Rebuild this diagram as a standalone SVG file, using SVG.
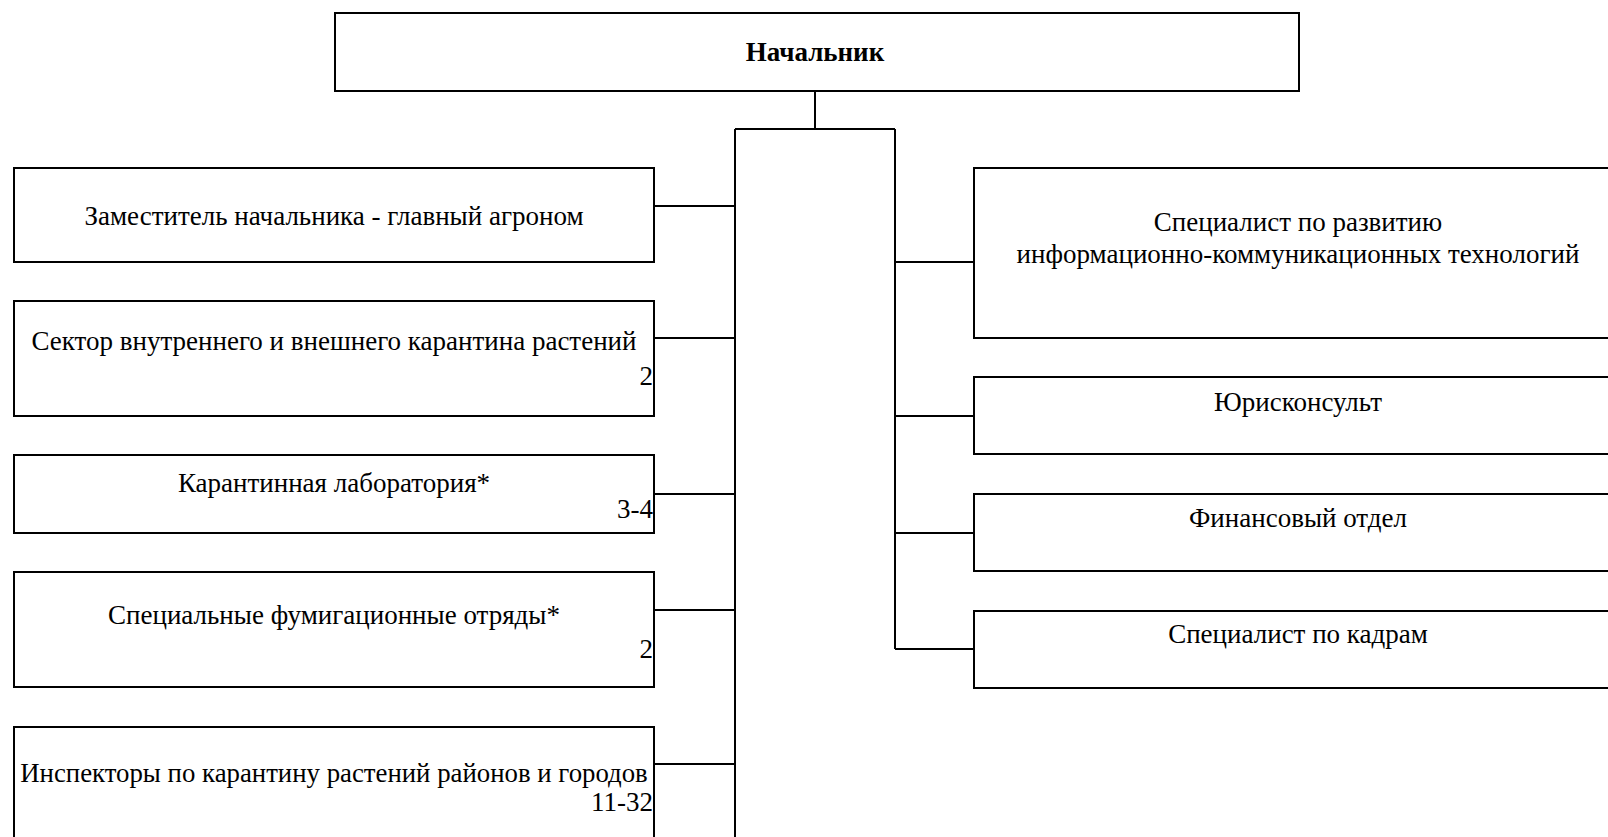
<svg xmlns="http://www.w3.org/2000/svg" width="1608" height="837" viewBox="0 0 1608 837">
<style>
.box{fill:#fff;stroke:#000;stroke-width:2}
.ln{fill:none;stroke:#000;stroke-width:2}
text{font-family:"Liberation Serif","Times New Roman",serif;font-size:27px;fill:#000}
.c{text-anchor:middle}
.r{text-anchor:end}
.b{font-weight:bold}
</style>
<rect width="1608" height="837" fill="#fff"/>
<g id="connectors">
<path class="ln" d="M815 91V129M735 129H895M735 129V837M895 129V649"/>
<path class="ln" d="M654 206H735M654 338H735M654 494H735M654 610H735M654 764H735"/>
<path class="ln" d="M895 262H974M895 416H974M895 533H974M895 649H974"/>
</g>
<g id="n0"><rect class="box" x="335" y="13" width="964" height="78"/><text class="c b" x="815" y="61">Начальник</text></g>
<g id="n1"><rect class="box" x="14" y="168" width="640" height="94"/><text class="c" x="334" y="225">Заместитель начальника - главный агроном</text></g>
<g id="n2"><rect class="box" x="14" y="301" width="640" height="115"/><text class="c" x="334" y="350">Сектор внутреннего и внешнего карантина растений</text><text class="r" x="653" y="385">2</text></g>
<g id="n3"><rect class="box" x="14" y="455" width="640" height="78"/><text class="c" x="334" y="492">Карантинная лаборатория*</text><text class="r" x="653" y="518">3-4</text></g>
<g id="n4"><rect class="box" x="14" y="572" width="640" height="115"/><text class="c" x="334" y="624">Специальные фумигационные отряды*</text><text class="r" x="653" y="658">2</text></g>
<g id="n5"><rect class="box" x="14" y="727" width="640" height="130"/><text class="c" x="334" y="782" style="font-size:26.8px">Инспекторы по карантину растений районов и городов</text><text class="r" x="653" y="811">11-32</text></g>
<g id="n6"><rect class="box" x="974" y="168" width="660" height="170"/><text class="c" x="1298" y="231">Специалист по развитию</text><text class="c" x="1298" y="263">информационно-коммуникационных технологий</text></g>
<g id="n7"><rect class="box" x="974" y="377" width="660" height="77"/><text class="c" x="1298" y="411">Юрисконсульт</text></g>
<g id="n8"><rect class="box" x="974" y="494" width="660" height="77"/><text class="c" x="1298" y="527">Финансовый отдел</text></g>
<g id="n9"><rect class="box" x="974" y="611" width="660" height="77"/><text class="c" x="1298" y="643">Специалист по кадрам</text></g>
</svg>
